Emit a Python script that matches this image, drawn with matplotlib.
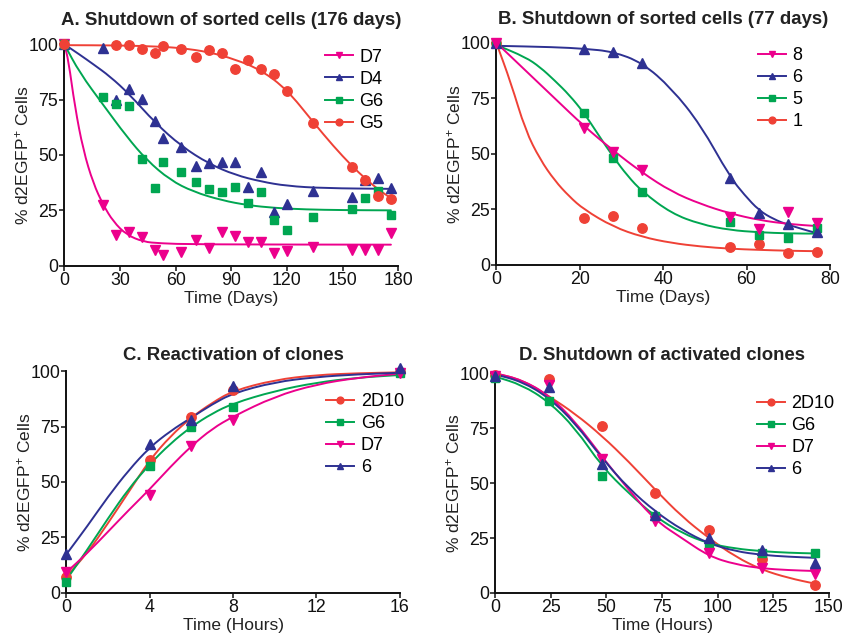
"""Four-panel d2EGFP shutdown / reactivation figure."""
import numpy as np
import matplotlib
matplotlib.use("Agg")
import matplotlib.pyplot as plt
from matplotlib.path import Path
from matplotlib.patches import PathPatch
from matplotlib.lines import Line2D

plt.rcParams["font.family"] = ["Liberation Sans", "DejaVu Sans"]
plt.rcParams["mathtext.fontset"] = "custom"
plt.rcParams["mathtext.rm"] = "Liberation Sans"
plt.rcParams["mathtext.it"] = "Liberation Sans"

MAG = "#ec008c"
BLUE = "#2e3192"
GREEN = "#00a651"
RED = "#ef4136"
NAN = np.nan

# ---- A. Shutdown of sorted cells (176 days) ----
a_days = [0, 21, 28, 35, 42, 49, 53, 63, 71, 78, 85, 92, 99, 106, 113, 120, 134, 155, 162, 169, 176]
a_d7 = [100, 27.4, 13.9, 15.4, 13.1, 7.1, 4.8, 6.3, 11.6, 7.8, 15.1, 13.4, 10.8, 10.8, 5.6, 6.8, 8.3, 7.1, 7.1, 7.1, 14.6]
a_d4 = [100, 98.2, 74.8, 79.7, 75.2, 65.5, 57.5, 53.8, 45.2, 46.5, 47, 47, 35.7, 42.5, 24.4, 27.9, 33.9, 31.2, 38.7, 39.5, 34.9]
a_g6 = [100, 76, 73, 72.1, 48.3, 34.9, 46.7, 42.5, 38, 34.5, 33.1, 35.7, 28.5, 33.1, 20.6, 16.1, 22.1, 25.6, 30.7, 33.9, 22.9]
a_g5 = [100, NAN, 99.8, 99.8, 97.7, 96.2, 99.2, 97.9, 94.1, 97.4, 95.9, 89, 92.9, 88.7, 86.6, 79.1, 64.3, 44.7, 38.7, 31.5, 30]

# fitted curves
a_d7_fit_t = [0, 2.2, 5.7, 10.2, 15.6, 21, 26.4, 33.6, 42.6, 51.6, 70, 176]
a_d7_fit_y = [100, 92.9, 71.8, 52.2, 37.2, 27.4, 19.9, 13.9, 10.8, 10.1, 9.6, 9.5]
a_d4_fit_t = [0, 8, 15.6, 24.6, 35, 49, 63, 78, 92, 106, 120, 140, 176]
a_d4_fit_y = [100, 95.5, 91, 85.5, 77.5, 64.5, 54, 46, 41, 38, 36, 35, 34.7]
a_g6_fit_t = [0, 8.4, 21, 33.6, 44.4, 57, 69.5, 85, 99, 113, 130, 150, 176]
a_g6_fit_y = [100, 87, 72.6, 58.3, 47.7, 38.7, 33.4, 29.5, 27.3, 26.1, 25.4, 25.1, 25]
a_g5_fit_t = [0, 30, 50, 63, 78, 92, 106, 120, 134, 145, 155, 162, 169, 176]
a_g5_fit_y = [99.6, 99.5, 99, 98.3, 96.5, 93.2, 88.4, 79.5, 65, 54, 45, 39.5, 34.5, 30.5]

# ---- B. Shutdown of sorted cells (77 days) ----
b_days = [0, 21, 28, 35, 56, 63, 70, 77]
b_8 = [100, 61.8, 51, 42.7, 21.7, 16.2, 24, 18.7]
b_6 = [100, 97.2, 95.7, 90.7, 39.3, 23.2, 18.3, 15]
b_5 = [100, 68.2, 48.3, 32.7, 19.5, 13.5, 12.3, 16.5]
b_1 = [100, 21, 22.2, 16.5, 8.2, 9.4, 5.2, 6]

b_8_fit_t = [0, 7, 14, 21, 28, 35, 42, 49, 56, 63, 70, 77]
b_8_fit_y = [100, 87.5, 75, 62.5, 51.5, 41.5, 33, 27.4, 23.2, 20.2, 18.4, 17.5]
b_6_fit_t = [0, 14, 21, 28, 35, 42, 49, 56, 59.5, 63, 66.5, 70, 77]
b_6_fit_y = [98.6, 98, 97.3, 96, 91, 79.5, 63, 39.7, 31.5, 24.5, 20.6, 18, 14.2]
b_5_fit_t = [0, 7, 10.5, 14, 17.5, 21, 24.5, 28, 31.5, 35, 42, 49, 56, 63, 70, 77]
b_5_fit_y = [99, 93.5, 89, 83, 76.5, 68.5, 58.5, 48.7, 40, 33, 23.2, 18.3, 15.7, 14.7, 14.2, 14.1]
b_1_fit_t = [0, 3.5, 7, 10.5, 14, 17.5, 21, 28, 35, 42, 49, 56, 63, 70, 77]
b_1_fit_y = [100, 82, 60.5, 47.5, 38, 30.8, 25, 17.2, 12.6, 9.9, 8.3, 7.3, 6.8, 6.4, 6.2]

# ---- C. Reactivation of clones ----
c_hours = [0, 4, 6, 8, 16]
c_2d10 = [7.4, 59.9, 79.1, 91.4, 99.4]
c_g6 = [5.1, 57.4, 74.9, 83.9, 98.9]
c_d7 = [9.3, 44.1, 66.4, 77.9, 98.9]
c_6 = [17.6, 67, 77.9, 93.2, 101.5]

c_fit_t = [0, 1, 2, 3, 4, 5, 6, 7, 8, 10, 12, 14, 16]
c_2d10_fit = [7.4, 17.9, 31.4, 45.6, 59.9, 70.7, 79.1, 85.7, 91.1, 96, 98.2, 99, 99.4]
c_g6_fit = [5.9, 19.4, 33.6, 47.1, 58, 67.4, 74.9, 80.9, 85.4, 91, 94.8, 97, 98.2]
c_d7_fit = [9.3, 17.9, 27.6, 37.4, 46.7, 56.9, 66.2, 74, 79.5, 88.5, 94, 97, 98.8]
c_6_fit = [17.4, 30, 43.4, 55.4, 65.6, 73, 79, 85, 90, 95, 97.3, 98.5, 99.2]

# ---- D. Shutdown of activated clones ----
d_hours = [0, 24, 48, 72, 96, 120, 144]
d_2d10 = [99.2, 97.3, 76.2, 45.4, 28.7, 15.3, 3.6]
d_g6 = [98, 87.4, 53.3, 35, 21.4, 18.4, 18.4]
d_d7 = [99, 94.7, 61, 32.9, 18.4, 11.2, 8.5]
d_6 = [99, 93.6, 58.7, 35.5, 24.9, 19.6, 13.5]

d_fit_t = [0, 12, 24, 36, 48, 60, 72, 84, 96, 108, 120, 132, 144]
d_2d10_fit = [100, 97, 89.7, 81.5, 71.5, 59.8, 46.9, 34.7, 25, 16.5, 10.5, 6.8, 4.2]
d_g6_fit = [98.5, 94.7, 87.1, 75, 57.5, 45.4, 34.7, 27.2, 22.5, 20.2, 19, 18.3, 18]
d_d7_fit = [100, 97, 90.1, 78, 62, 46.9, 33, 24.9, 16.8, 13, 11.2, 10.4, 10]
d_6_fit = [99.5, 96.2, 89, 77.2, 61.3, 47.6, 37, 28.7, 22.5, 19, 17.3, 16.5, 16]


def smooth_curve(ax, t, y, color):
    """Draw a smooth line through the read curve points (quadratic Bezier)."""
    pts = list(zip(t, y))
    verts = [pts[0], ((pts[0][0] + pts[1][0]) / 2, (pts[0][1] + pts[1][1]) / 2)]
    codes = [Path.MOVETO, Path.LINETO]
    for i in range(1, len(pts) - 1):
        mid = ((pts[i][0] + pts[i + 1][0]) / 2, (pts[i][1] + pts[i + 1][1]) / 2)
        verts += [pts[i], mid]
        codes += [Path.CURVE3, Path.CURVE3]
    verts.append(pts[-1])
    codes.append(Path.LINETO)
    ax.add_patch(PathPatch(Path(verts, codes), facecolor="none", edgecolor=color,
                           lw=1.4, capstyle="round", joinstyle="round", zorder=2))


def style_axes(ax, xmax, xticks, xlabel, title, pad):
    ax.set_xlim(0, xmax)
    ax.set_ylim(0, 100)
    ax.set_xticks(xticks)
    ax.set_yticks([0, 25, 50, 75, 100])
    for s in ("top", "right"):
        ax.spines[s].set_visible(False)
    for s in ("left", "bottom"):
        ax.spines[s].set_linewidth(1.4)
        ax.spines[s].set_color("#111111")
    ax.tick_params(direction="out", length=3.5, width=1.1, labelsize=12.8, pad=1,
                   color="#111111", labelcolor="#111111")
    ax.set_xlabel(xlabel, fontsize=12.5, labelpad=1.2, color="#222222")
    ax.set_ylabel("% d2EGFP$^{+}$ Cells", fontsize=12.5, labelpad=-2, color="#222222")
    ax.set_title(title, fontsize=13.4, fontweight="bold", pad=pad, color="#222222")


MARK = {"v": 6.8, "^": 6.8, "s": 6.2, "o": 6.8}


def series(ax, t, y, fit_t, fit_y, color, marker, handles, label):
    smooth_curve(ax, fit_t, fit_y, color)
    ax.plot(t, y, ls="none", marker=marker, ms=MARK[marker], color=color,
            mec=color, clip_on=False, zorder=3)
    handles.append(Line2D([], [], color=color, lw=1.4, marker=marker,
                          ms=MARK[marker] * 0.72, label=label))


def add_legend(ax, handles, x, y):
    ax.legend(handles=handles, loc="upper left", bbox_to_anchor=(x, y), frameon=False,
              fontsize=13, handlelength=1.55, handletextpad=0.35, labelspacing=0.28,
              borderaxespad=0, borderpad=0)


fig = plt.figure(figsize=(8.45, 6.39), dpi=100)

axA = fig.add_axes([0.0761, 0.5842, 0.3953, 0.3465])
axB = fig.add_axes([0.5873, 0.5853, 0.3949, 0.3479])
axC = fig.add_axes([0.0785, 0.0720, 0.3945, 0.3474])
axD = fig.add_axes([0.5862, 0.0720, 0.3946, 0.3438])

# A
h = []
series(axA, a_days, a_d7, a_d7_fit_t, a_d7_fit_y, MAG, "v", h, "D7")
series(axA, a_days, a_d4, a_d4_fit_t, a_d4_fit_y, BLUE, "^", h, "D4")
series(axA, a_days, a_g6, a_g6_fit_t, a_g6_fit_y, GREEN, "s", h, "G6")
series(axA, a_days, a_g5, a_g5_fit_t, a_g5_fit_y, RED, "o", h, "G5")
style_axes(axA, 180, [0, 30, 60, 90, 120, 150, 180], "Time (Days)",
           "A. Shutdown of sorted cells (176 days)", 14)
add_legend(axA, h, 0.78, 0.98)

# B
h = []
series(axB, b_days, b_1, b_1_fit_t, b_1_fit_y, RED, "o", h, "1")
series(axB, b_days, b_5, b_5_fit_t, b_5_fit_y, GREEN, "s", h, "5")
series(axB, b_days, b_6, b_6_fit_t, b_6_fit_y, BLUE, "^", h, "6")
series(axB, b_days, b_8, b_8_fit_t, b_8_fit_y, MAG, "v", h, "8")
style_axes(axB, 80, [0, 20, 40, 60, 80], "Time (Days)",
           "B. Shutdown of sorted cells (77 days)", 13.5)
add_legend(axB, h[::-1], 0.785, 0.98)

# C
h = []
series(axC, c_hours, c_2d10, c_fit_t, c_2d10_fit, RED, "o", h, "2D10")
series(axC, c_hours, c_g6, c_fit_t, c_g6_fit, GREEN, "s", h, "G6")
series(axC, c_hours, c_d7, c_fit_t, c_d7_fit, MAG, "v", h, "D7")
series(axC, c_hours, c_6, c_fit_t, c_6_fit, BLUE, "^", h, "6")
style_axes(axC, 16, [0, 4, 8, 12, 16], "Time (Hours)", "C. Reactivation of clones", 8)
add_legend(axC, h, 0.78, 0.90)

# D
h = []
series(axD, d_hours, d_2d10, d_fit_t, d_2d10_fit, RED, "o", h, "2D10")
series(axD, d_hours, d_g6, d_fit_t, d_g6_fit, GREEN, "s", h, "G6")
series(axD, d_hours, d_d7, d_fit_t, d_d7_fit, MAG, "v", h, "D7")
series(axD, d_hours, d_6, d_fit_t, d_6_fit, BLUE, "^", h, "6")
style_axes(axD, 150, [0, 25, 50, 75, 100, 125, 150], "Time (Hours)",
           "D. Shutdown of activated clones", 9.5)
add_legend(axD, h, 0.785, 0.90)

fig.savefig("out.png", dpi=100)
